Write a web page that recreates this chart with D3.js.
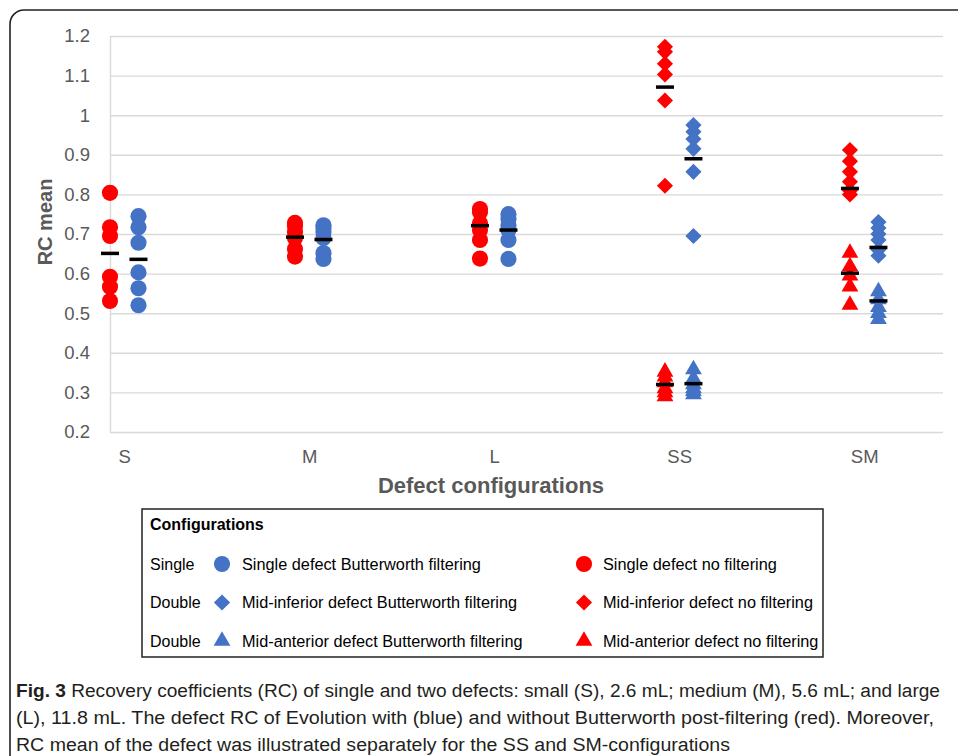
<!DOCTYPE html>
<html>
<head>
<meta charset="utf-8">
<script src="https://cdn.jsdelivr.net/npm/d3@7"></script>
<style>
  body { margin: 0; background: #fff; }
  text { font-family: "Liberation Sans", Arial, sans-serif; }
</style>
</head>
<body>
<svg id="chart" width="958" height="756"></svg>
<script>
// categories on the x axis
const categories = ["S", "M", "L", "SS", "SM"]
const yTicks = [0.2, 0.3, 0.4, 0.5, 0.6, 0.7, 0.8, 0.9, 1, 1.1, 1.2]

// single defects (S, M, L)
const singleNoFilt = [
  [0.804, 0.717, 0.695, 0.592, 0.567, 0.531],
  [0.728, 0.72, 0.705, 0.69, 0.662, 0.643],
  [0.763, 0.755, 0.727, 0.71, 0.685, 0.638]
]
const singleNoFiltMean = [0.651, 0.692, 0.721]
const singleButter = [
  [0.745, 0.717, 0.678, 0.603, 0.563, 0.52],
  [0.722, 0.715, 0.705, 0.69, 0.652, 0.637],
  [0.75, 0.738, 0.722, 0.71, 0.685, 0.637]
]
const singleButterMean = [0.636, 0.686, 0.71]

// double defects (SS, SM)
const midInfNoFilt = [
  [1.173, 1.16, 1.13, 1.103, 1.037, 0.822],
  [0.912, 0.884, 0.857, 0.832, 0.81, 0.80]
]
const midInfNoFiltMean = [1.071, 0.815]
const midInfButter = [
  [0.975, 0.958, 0.94, 0.915, 0.857, 0.695],
  [0.73, 0.715, 0.70, 0.685, 0.66, 0.645]
]
const midInfButterMean = [0.89, 0.666]
const midAntNoFilt = [
  [0.352, 0.34, 0.325, 0.31, 0.30, 0.29],
  [0.652, 0.618, 0.595, 0.567, 0.521]
]
const midAntNoFiltMean = [0.32, 0.601]
const midAntButter = [
  [0.358, 0.335, 0.32, 0.31, 0.303, 0.295],
  [0.555, 0.535, 0.515, 0.50, 0.485]
]
const midAntButterMean = [0.322, 0.531]

const legendRows = [
  ["Single", "circle", "Single defect Butterworth filtering", "Single defect no filtering"],
  ["Double", "diamond", "Mid-inferior defect Butterworth filtering", "Mid-inferior defect no filtering"],
  ["Double", "triangle", "Mid-anterior defect Butterworth filtering", "Mid-anterior defect no filtering"]
]

const captionLines = [
  "Recovery coefficients (RC) of single and two defects: small (S), 2.6 mL; medium (M), 5.6 mL; and large",
  "(L), 11.8 mL. The defect RC of Evolution with (blue) and without Butterworth post-filtering (red). Moreover,",
  "RC mean of the defect was illustrated separately for the SS and SM-configurations"
]

const RED = "#ff0000"
const BLUE = "#4472c4"

// layout
const plotLeft = 110, plotRight = 943, plotTop = 36, plotBottom = 432

const svg = d3.select("#chart")

// outer frame (runs off the right edge)
svg.append("rect")
   .attr("x", 10).attr("y", 10)
   .attr("width", 1000).attr("height", 800)
   .attr("rx", 14)
   .attr("fill", "none")
   .attr("stroke", "#222")
   .attr("stroke-width", 1.6)

var x = d3.scaleLinear().domain([0.923, 5.426]).range([plotLeft, plotRight])
var y = d3.scaleLinear().domain([0.2, 1.2]).range([plotBottom, plotTop])

// y axis + gridlines
var gy = svg.append("g")
   .attr("transform", "translate(" + plotLeft + ",0)")
   .call(d3.axisLeft(y)
      .tickValues(yTicks)
      .tickSize(-(plotRight - plotLeft))
      .tickSizeOuter(0)
      .tickPadding(20)
      .tickFormat(d => String(d)))
gy.selectAll(".tick line").attr("stroke", "#d9d9d9").attr("stroke-width", 1.4)
gy.select(".domain").attr("stroke", "#d9d9d9").attr("stroke-width", 1.4)
gy.selectAll("text").attr("fill", "#595959").style("font-size", "18.5px")

// x axis labels
var gx = svg.append("g")
   .attr("transform", "translate(0," + plotBottom + ")")
   .call(d3.axisBottom(x)
      .tickValues([1, 2, 3, 4, 5])
      .tickSize(0)
      .tickPadding(18)
      .tickFormat(i => categories[i - 1]))
gx.select(".domain").remove()
gx.selectAll("text").attr("fill", "#595959").style("font-size", "18.5px")

// axis titles
svg.append("text")
   .attr("transform", "translate(52,222) rotate(-90)")
   .attr("text-anchor", "middle")
   .attr("fill", "#595959")
   .style("font-size", "20px").style("font-weight", "bold")
   .text("RC mean")

svg.append("text")
   .attr("x", 491).attr("y", 493)
   .attr("text-anchor", "middle")
   .attr("fill", "#595959")
   .style("font-size", "22px").style("font-weight", "bold")
   .text("Defect configurations")

// build series list
var series = []
singleNoFilt.forEach((v, i) => series.push({cat: i + 1, side: -1, color: RED, shape: "circle", values: v, mean: singleNoFiltMean[i]}))
singleButter.forEach((v, i) => series.push({cat: i + 1, side: 1, color: BLUE, shape: "circle", values: v, mean: singleButterMean[i]}))
midInfNoFilt.forEach((v, i) => series.push({cat: i + 4, side: -1, color: RED, shape: "diamond", values: v, mean: midInfNoFiltMean[i]}))
midInfButter.forEach((v, i) => series.push({cat: i + 4, side: 1, color: BLUE, shape: "diamond", values: v, mean: midInfButterMean[i]}))
midAntNoFilt.forEach((v, i) => series.push({cat: i + 4, side: -1, color: RED, shape: "triangle", values: v, mean: midAntNoFiltMean[i]}))
midAntButter.forEach((v, i) => series.push({cat: i + 4, side: 1, color: BLUE, shape: "triangle", values: v, mean: midAntButterMean[i]}))

const offset = 0.077

function symbolPath(shape) {
  if (shape == "circle") return d3.symbol(d3.symbolCircle, 205)()
  if (shape == "diamond") return d3.symbol(d3.symbolSquare, 130)()
  return d3.symbol(d3.symbolTriangle, 122)()
}
function symbolRotate(shape) { return shape == "diamond" ? " rotate(45)" : "" }

var points = []
series.forEach(s => s.values.forEach(v => points.push({s: s, v: v})))

svg.append("g")
   .selectAll("path")
   .data(points)
   .enter()
   .append("path")
   .attr("d", d => symbolPath(d.s.shape))
   .attr("transform", d => "translate(" + x(d.s.cat + d.s.side * offset) + "," + y(d.v) + ")" + symbolRotate(d.s.shape))
   .attr("fill", d => d.s.color)

// mean bars
svg.append("g")
   .selectAll("rect")
   .data(series)
   .enter()
   .append("rect")
   .attr("x", d => x(d.cat + d.side * offset) - 9)
   .attr("y", d => y(d.mean) - 1.75)
   .attr("width", 18)
   .attr("height", 3.5)
   .attr("fill", "#000")

// legend
var lg = svg.append("g")
lg.append("rect")
  .attr("x", 142).attr("y", 509)
  .attr("width", 681).attr("height", 148)
  .attr("fill", "#fff")
  .attr("stroke", "#222").attr("stroke-width", 1.5)
lg.append("text")
  .attr("x", 150).attr("y", 530)
  .style("font-size", "16px").style("font-weight", "bold")
  .text("Configurations")

legendRows.forEach((r, i) => {
  var cy = 564 + i * 38.5
  lg.append("text").attr("x", 150).attr("y", cy + 5.5).style("font-size", "16px").text(r[0])
  lg.append("path")
    .attr("d", symbolPath(r[1]))
    .attr("transform", "translate(222," + cy + ")" + symbolRotate(r[1]))
    .attr("fill", BLUE)
  lg.append("text").attr("x", 242).attr("y", cy + 5.5).style("font-size", "16.3px").text(r[2])
  lg.append("path")
    .attr("d", symbolPath(r[1]))
    .attr("transform", "translate(584," + cy + ")" + symbolRotate(r[1]))
    .attr("fill", RED)
  lg.append("text").attr("x", 603).attr("y", cy + 5.5).style("font-size", "16.3px").text(r[3])
})

// caption
var capWidths = [924, 918, 714]
captionLines.forEach((line, i) => {
  var t = svg.append("text")
     .attr("x", 16).attr("y", 697 + i * 27)
     .attr("fill", "#231f20")
     .attr("textLength", capWidths[i])
     .attr("lengthAdjust", "spacingAndGlyphs")
     .style("font-size", "18px")
  if (i == 0) {
    t.append("tspan").style("font-weight", "bold").text("Fig. 3 ")
  }
  t.append("tspan").text(line)
})
</script>
</body>
</html>
